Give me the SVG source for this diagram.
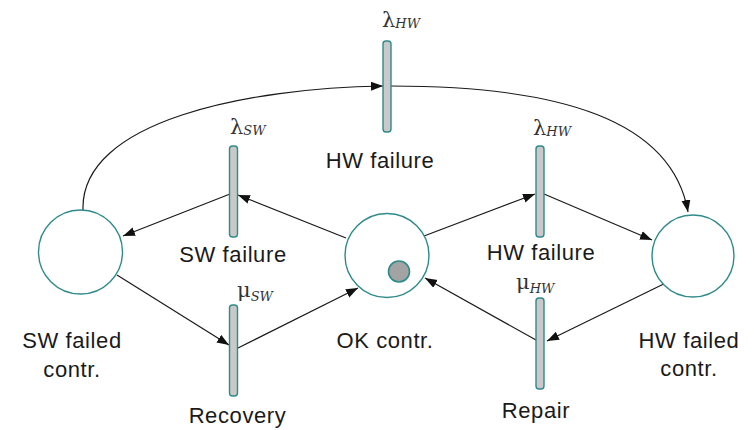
<svg xmlns="http://www.w3.org/2000/svg" width="754" height="430" viewBox="0 0 754 430">
  <style>
    .place { fill: #ffffff; stroke: #2f8a8a; stroke-width: 1.4; }
    .trans { fill: #c9c9c9; stroke: #2f8a8a; stroke-width: 1.4; }
    .token { fill: #a3a3a3; stroke: #2f8a8a; stroke-width: 1.6; }
    .arc { fill: none; stroke: #1a1a1a; stroke-width: 1.2; marker-end: url(#head); }
    .lbl { font-family: "Liberation Sans", Arial, sans-serif; font-size: 22px; fill: #1a1a1a; text-anchor: middle; letter-spacing: 0.6px; }
    .rate { font-family: "DejaVu Serif", "Liberation Serif", serif; font-size: 21px; fill: #333333; }
    .sub { font-size: 13px; font-style: italic; }
  </style>
  <defs>
    <marker id="head" markerUnits="userSpaceOnUse" markerWidth="13" markerHeight="10" refX="12" refY="4.5" orient="auto">
      <path d="M0,0 L12,4.5 L0,9 z" fill="#111111"/>
    </marker>
  </defs>

  <!-- arcs -->
  <g id="arcs">
    <path class="arc" d="M83,210 C80,120 250,88 383,86"/>
    <path class="arc" d="M391,86 C560,86 672,120 688,212"/>
    <path class="arc" d="M346,238 L238,195"/>
    <path class="arc" d="M230,194 L123,236"/>
    <path class="arc" d="M117,275 L229,345"/>
    <path class="arc" d="M238,348 L358,288"/>
    <path class="arc" d="M424,236 L535,194"/>
    <path class="arc" d="M544,194 L652,240"/>
    <path class="arc" d="M678,277 L547,341"/>
    <path class="arc" d="M536,340 L425,278"/>
  </g>

  <!-- places -->
  <g id="sw-failed">
    <circle class="place" cx="80.5" cy="252" r="42"/>
    <text class="lbl" x="72" y="348">SW failed</text>
    <text class="lbl" x="72" y="377">contr.</text>
  </g>
  <g id="ok">
    <circle class="place" cx="387" cy="255.5" r="42"/>
    <circle class="token" cx="399" cy="271.5" r="10.5"/>
    <text class="lbl" x="385" y="348">OK contr.</text>
  </g>
  <g id="hw-failed">
    <circle class="place" cx="693" cy="256" r="41"/>
    <text class="lbl" x="689" y="348">HW failed</text>
    <text class="lbl" x="689" y="376">contr.</text>
  </g>

  <!-- transitions -->
  <g id="t-hw-top">
    <rect class="trans" x="383" y="41" width="8" height="91" rx="3"/>
    <text class="rate" x="382" y="27">λ<tspan class="sub" dy="1">HW</tspan></text>
    <text class="lbl" x="380" y="168">HW failure</text>
  </g>
  <g id="t-sw-failure">
    <rect class="trans" x="229.5" y="146" width="8" height="91" rx="3"/>
    <text class="rate" x="230" y="134">λ<tspan class="sub" dy="1">SW</tspan></text>
    <text class="lbl" x="233" y="262">SW failure</text>
  </g>
  <g id="t-recovery">
    <rect class="trans" x="229.5" y="305" width="8" height="91" rx="3"/>
    <text class="rate" x="237" y="297">μ<tspan class="sub" dy="4">SW</tspan></text>
    <text class="lbl" x="237.5" y="423">Recovery</text>
  </g>
  <g id="t-hw-failure">
    <rect class="trans" x="536" y="146" width="8" height="91" rx="3"/>
    <text class="rate" x="533" y="135">λ<tspan class="sub" dy="1">HW</tspan></text>
    <text class="lbl" x="541" y="260">HW failure</text>
  </g>
  <g id="t-repair">
    <rect class="trans" x="536" y="298" width="8" height="91" rx="3"/>
    <text class="rate" x="516" y="289">μ<tspan class="sub" dy="4">HW</tspan></text>
    <text class="lbl" x="536" y="418">Repair</text>
  </g>
</svg>
